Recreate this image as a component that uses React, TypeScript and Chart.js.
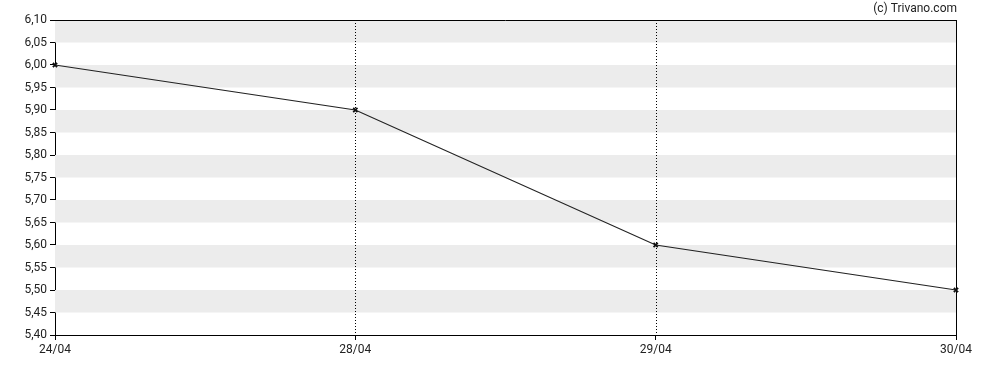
import React, { useEffect, useRef } from "react";
import { Chart, registerables } from "chart.js";

Chart.register(...registerables);

const categories = ["24/04", "28/04", "29/04", "30/04"];
const prices = [6.0, 5.9, 5.6, 5.5];
const yMin = 5.4;
const yMax = 6.1;
const yStep = 0.05;
const copyright = "(c) Trivano.com";

const FONT = "Roboto, 'Noto Sans', sans-serif";

const framePlugin = {
  id: "frame",
  beforeDatasetsDraw(chart: any) {
    const { ctx, chartArea, scales } = chart;
    const y = scales.y;
    const x = scales.x;
    ctx.save();
    ctx.fillStyle = "#ececec";
    const steps = Math.round((yMax - yMin) / yStep);
    for (let i = 0; i < steps; i++) {
      if (i % 2 === 0) {
        const top = yMax - i * yStep;
        const bot = top - yStep;
        const p1 = y.getPixelForValue(top);
        const p2 = y.getPixelForValue(bot);
        ctx.fillRect(chartArea.left, p1, chartArea.right - chartArea.left, p2 - p1);
      }
    }
    ctx.strokeStyle = "#000";
    ctx.lineWidth = 1;
    ctx.setLineDash([1, 2]);
    for (let i = 1; i < categories.length - 1; i++) {
      const px = Math.round(x.getPixelForValue(i)) + 0.5;
      ctx.beginPath();
      ctx.moveTo(px, chartArea.top);
      ctx.lineTo(px, chartArea.bottom);
      ctx.stroke();
    }
    ctx.setLineDash([]);
    ctx.beginPath();
    ctx.moveTo(chartArea.left, Math.round(chartArea.top) + 0.5);
    ctx.lineTo(chartArea.right, Math.round(chartArea.top) + 0.5);
    ctx.moveTo(Math.round(chartArea.right) + 0.5, chartArea.top);
    ctx.lineTo(Math.round(chartArea.right) + 0.5, chartArea.bottom);
    ctx.stroke();
    ctx.restore();
  },
  afterDraw(chart: any) {
    const { ctx } = chart;
    ctx.save();
    ctx.fillStyle = "#222";
    ctx.font = `12px ${FONT}`;
    ctx.textAlign = "right";
    ctx.textBaseline = "middle";
    ctx.fillText(copyright, 957, 9);
    ctx.restore();
  },
};

export default function App() {
  const ref = useRef<HTMLCanvasElement>(null);
  useEffect(() => {
    if (!ref.current) return;
    const chart = new Chart(ref.current, {
      type: "line",
      data: {
        labels: categories,
        datasets: [
          {
            data: prices,
            borderColor: "#222",
            borderWidth: 1.2,
            pointStyle: "crossRot",
            pointRadius: 3,
            pointBorderWidth: 1.8,
            pointBorderColor: "#111",
            pointBackgroundColor: "#111",
            tension: 0,
          },
        ],
      },
      plugins: [framePlugin],
      options: {
        animation: false,
        responsive: false,
        maintainAspectRatio: false,
        layout: { padding: { left: 0, top: 20, right: 32, bottom: 0 } },
        plugins: { legend: { display: false }, tooltip: { enabled: false } },
        scales: {
          x: {
            type: "category",
            offset: false,
            grid: { drawOnChartArea: false, color: "#000", tickLength: 5 },
            border: { display: true, color: "#000", width: 1 },
            ticks: {
              autoSkip: false,
              maxRotation: 0,
              color: "#222",
              font: { family: FONT, size: 12 },
              padding: 3,
            },
            afterFit: (s: any) => {
              s.height = 35;
            },
          },
          y: {
            type: "linear",
            min: yMin,
            max: yMax,
            grid: { drawOnChartArea: false, color: "#000", tickLength: 5 },
            border: { display: true, color: "#000", width: 1 },
            ticks: {
              stepSize: yStep,
              color: "#222",
              font: { family: FONT, size: 12 },
              padding: 3,
              callback: (v: any) => Number(v).toFixed(2).replace(".", ","),
            },
            afterFit: (s: any) => {
              s.width = 55;
            },
          },
        },
      },
    });
    return () => chart.destroy();
  }, []);
  return (
    <div style={{ position: "absolute", left: 0, top: 0, width: 988, height: 370 }}>
      <canvas ref={ref} width={988} height={370} style={{ width: 988, height: 370 }} />
    </div>
  );
}
